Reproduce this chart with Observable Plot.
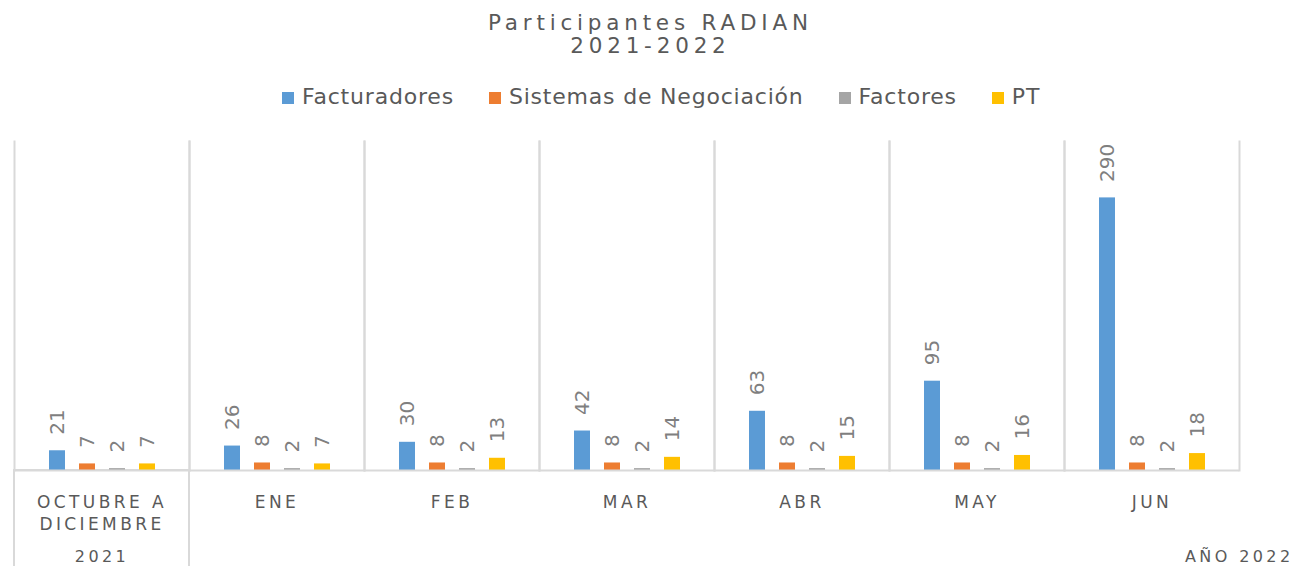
<!DOCTYPE html>
<html>
<head>
<meta charset="utf-8">
<script src="https://cdn.jsdelivr.net/npm/d3@7"></script>
<script src="https://cdn.jsdelivr.net/npm/@observablehq/plot@0.6"></script>
<style>
  html, body { margin: 0; padding: 0; background: #fff; }
  #wrap { width: 1296px; height: 566px; position: relative; font-family: "DejaVu Sans", sans-serif; color: #595959; overflow: hidden; }
  #header { position: relative; width: 1296px; height: 120px; }
  .title { position: absolute; left: 0; width: 1296px; text-align: center; font-size: 21.5px; line-height: 1; letter-spacing: 4.8px; text-indent: 4.8px; white-space: nowrap; }
  #legend { position: absolute; left: 282px; top: 86px; display: flex; align-items: center; font-size: 22px; line-height: 1; letter-spacing: 0.8px; white-space: nowrap; }
  .item { display: flex; align-items: center; margin-right: 35px; }
  .sw { width: 12px; height: 12px; margin-right: 8px; display: inline-block; position: relative; top: 1px; }
  g[aria-label="fx-axis tick label"] text { letter-spacing: 3.4px; }
</style>
</head>
<body>
<div id="wrap">
  <div id="header">
    <div class="title" id="t1" style="top:12px"></div>
    <div class="title" id="t2" style="top:35px"></div>
    <div id="legend"></div>
  </div>
  <div id="chart"></div>
</div>
<script>
const titleLine1 = "Participantes RADIAN";
const titleLine2 = "2021-2022";
const months = ["OCTUBRE A\nDICIEMBRE", "ENE", "FEB", "MAR", "ABR", "MAY", "JUN"];
const series = ["Facturadores", "Sistemas de Negociación", "Factores", "PT"];
const colors = ["#5b9bd5", "#ed7d31", "#a5a5a5", "#ffc000"];
const facturadores = [21, 26, 30, 42, 63, 95, 290];
const sistemas = [7, 8, 8, 8, 8, 8, 8];
const factores = [2, 2, 2, 2, 2, 2, 2];
const pt = [7, 7, 13, 14, 15, 16, 18];
const groupLabels = [
  {month: "OCTUBRE A\nDICIEMBRE", label: "2021"},
  {month: "JUN", label: "AÑO 2022"}
];

document.getElementById("t1").textContent = titleLine1;
document.getElementById("t2").textContent = titleLine2;
const legend = document.getElementById("legend");
series.forEach((s, i) => {
  const it = document.createElement("div");
  it.className = "item";
  const sw = document.createElement("span");
  sw.className = "sw";
  sw.style.background = colors[i];
  const tx = document.createElement("span");
  tx.textContent = s;
  it.appendChild(sw); it.appendChild(tx);
  legend.appendChild(it);
});

const valuesBySeries = [facturadores, sistemas, factores, pt];
const data = [];
months.forEach((m, mi) => {
  series.forEach((s, si) => {
    data.push({month: m, series: s, value: valuesBySeries[si][mi]});
  });
});

const grid = "#d9d9d9";
const chart = Plot.plot({
  width: 1296,
  height: 446,
  marginTop: 21,
  marginBottom: 96,
  marginLeft: 14,
  marginRight: 57,
  style: {fontFamily: "DejaVu Sans, sans-serif", background: "transparent", overflow: "visible"},
  fx: {domain: months, padding: 0, label: null, axis: null},
  x: {domain: series, paddingInner: 0.467, paddingOuter: 1.15, axis: null},
  y: {domain: [0, 350], axis: null},
  color: {domain: series, range: colors},
  marks: [
    Plot.frame({anchor: "left", stroke: grid, strokeWidth: 2}),
    Plot.frame({anchor: "right", stroke: grid, strokeWidth: 2}),
    Plot.rect(groupLabels.slice(0, 1), {fx: "month", y1: 0, y2: 0, insetBottom: -110, stroke: grid, strokeWidth: 2, fill: "none"}),
    Plot.barY(data, {fx: "month", x: "series", y: "value", fill: "series"}),
    Plot.ruleY([0], {stroke: grid, strokeWidth: 2}),
    Plot.text(data, {fx: "month", x: "series", y: "value", text: d => String(d.value), rotate: -90, textAnchor: "start", lineAnchor: "middle", dy: -16, fontSize: 20, fill: "#7f7f7f"}),
    Plot.axisFx({anchor: "bottom", tickSize: 0, tickPadding: 21, fontSize: 17, lineHeight: 1.33, label: null, fill: "#595959"}),
    Plot.text(groupLabels.slice(0, 1), {fx: "month", text: "label", frameAnchor: "bottom", lineAnchor: "top", dy: 80, fontSize: 16, fill: "#595959"}),
    Plot.text(groupLabels.slice(1), {fx: "month", text: "label", frameAnchor: "bottom-right", textAnchor: "end", lineAnchor: "top", dx: 54, dy: 80, fontSize: 16, fill: "#595959"})
  ]
});
const labelSet = new Set(groupLabels.map(d => d.label));
d3.select(chart).selectAll("text")
  .filter(function() { return labelSet.has(this.textContent); })
  .style("letter-spacing", "3.4px");
document.getElementById("chart").appendChild(chart);
</script>
</body>
</html>
